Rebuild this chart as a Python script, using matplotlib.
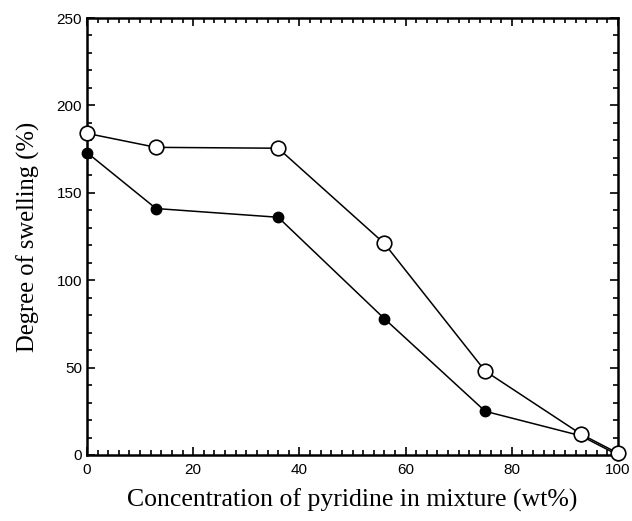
import matplotlib
matplotlib.use("Agg")
import matplotlib.pyplot as plt
from matplotlib.ticker import MultipleLocator

# Data
x_open = [0, 13, 36, 56, 75, 93, 100]
y_open = [184, 176, 175.5, 121, 48, 12, 1]
x_filled = [0, 13, 36, 56, 75, 93, 100]
y_filled = [173, 141, 136, 78, 25, 11, 0]

xlabel = "Concentration of pyridine in mixture (wt%)"
ylabel = "Degree of swelling (%)"

fig = plt.figure(figsize=(6.32, 5.21), dpi=100)
ax = fig.add_axes([87/632, 1-455/521, (618-87)/632, (455-18)/521])

ax.plot(x_filled, y_filled, color="black", lw=1.1, marker="o", ms=7.5,
        mfc="black", mec="black", zorder=3, clip_on=False)
ax.plot(x_open, y_open, color="black", lw=1.1, marker="o", ms=10.5,
        mfc="white", mec="black", mew=1.2, zorder=4, clip_on=False)

ax.set_xlim(0, 100)
ax.set_ylim(0, 250)
ax.xaxis.set_major_locator(MultipleLocator(20))
ax.xaxis.set_minor_locator(MultipleLocator(2))
ax.yaxis.set_major_locator(MultipleLocator(50))
ax.yaxis.set_minor_locator(MultipleLocator(10))
ax.tick_params(which="both", direction="in", top=True, right=True, width=1.2)
ax.tick_params(which="major", length=6, labelsize=11)
ax.tick_params(which="minor", length=3.5)
ax.tick_params(axis="x", pad=6)
for lab in ax.get_xticklabels() + ax.get_yticklabels():
    lab.set_family(["Liberation Sans Narrow", "Liberation Sans", "DejaVu Sans"])
for s in ax.spines.values():
    s.set_linewidth(1.8)

ax.set_xlabel(xlabel, family="Liberation Serif", fontsize=18.5, labelpad=8)
ax.set_ylabel(ylabel, family="Liberation Serif", fontsize=17.7, labelpad=12)

fig.savefig("out.png", dpi=100)
